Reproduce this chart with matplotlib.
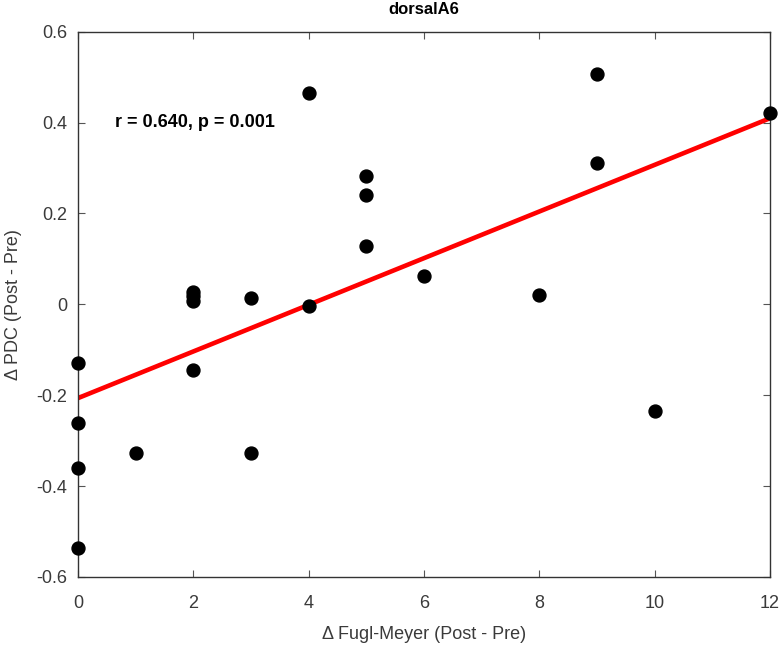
import matplotlib
matplotlib.use('Agg')
import matplotlib.pyplot as plt
import numpy as np

# data
fm_change = [0, 0, 0, 0, 1, 2, 2, 2, 2, 3, 3, 4, 4, 5, 5, 5, 6, 8, 9, 9, 10, 12]
pdc_change = [-0.130, -0.262, -0.360, -0.536, -0.328,
              0.028, 0.018, 0.008, -0.145,
              0.014, -0.328, 0.464, -0.004,
              0.283, 0.240, 0.128, 0.063, 0.020,
              0.506, 0.312, -0.235, 0.422]
title = 'dorsalA6'
stats_text = 'r = 0.640, p = 0.001'

plt.rcParams['font.family'] = ['Liberation Sans', 'DejaVu Sans']

fig = plt.figure(figsize=(7.8, 6.46), dpi=100)
ax = fig.add_axes([0.1, 0.107, 0.887, 0.844])

x = np.array(fm_change, dtype=float)
y = np.array(pdc_change)
slope, intercept = np.polyfit(x, y, 1)
xl = np.array([0, 12])
ax.plot(xl, intercept + slope * xl, color='red', lw=3.3, zorder=2)
ax.plot(x, y, 'o', color='black', markersize=9.3, zorder=3, clip_on=False)

ax.set_xlim(0, 12)
ax.set_ylim(-0.6, 0.6)
ax.set_xticks(np.arange(0, 13, 2))
ax.set_yticks(np.arange(-0.6, 0.61, 0.2))
ax.set_yticklabels(['-0.6', '-0.4', '-0.2', '0', '0.2', '0.4', '0.6'])
ax.tick_params(direction='in', top=True, right=True, length=5, width=0.8,
               colors='#555555', labelsize=13, labelcolor='#3a3a3a')
ax.tick_params(axis='x', pad=13)
ax.tick_params(axis='y', pad=8)
for s in ax.spines.values():
    s.set_color('#333333')
    s.set_linewidth(1.0)

ax.set_xlabel('\u0394 Fugl-Meyer (Post - Pre)', fontsize=13, color='#3a3a3a', labelpad=10)
ax.set_ylabel('\u0394 PDC (Post - Pre)', fontsize=13, color='#3a3a3a', labelpad=10)
ax.set_title(title, fontsize=12, fontweight='bold', pad=13)
ax.text(0.65, 0.4, stats_text, fontsize=13, fontweight='bold', va='center', ha='left')

fig.savefig('out.png', dpi=100)
